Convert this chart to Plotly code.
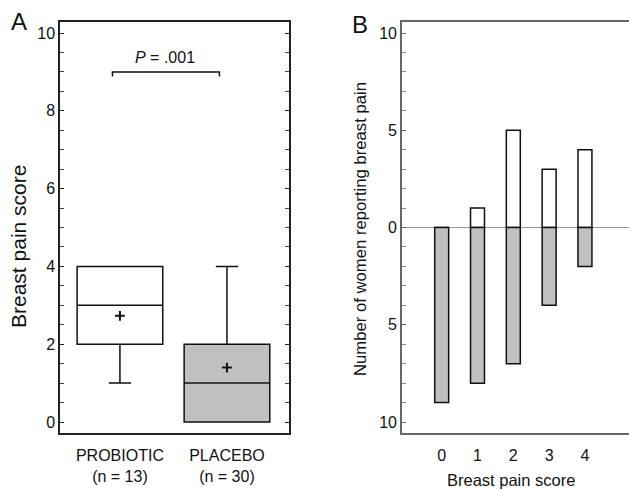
import plotly.graph_objects as go

# Panel A data (box statistics)
groups = ["PROBIOTIC<br>(n = 13)", "PLACEBO<br>(n = 30)"]
group_pos = [0, 1]
q1 = [2, 0]
median = [3, 1]
q3 = [4, 2]
lower_whisker = [1, 0]
upper_whisker = [4, 4]
means = [2.73, 1.40]
box_fill = ["white", "#c0c0c0"]

# Panel B data
pain_scores = [0, 1, 2, 3, 4]
probiotic_counts = [0, 1, 5, 3, 4]
placebo_counts = [9, 8, 7, 4, 2]

FONT = "Liberation Sans, Arial, sans-serif"
W, H = 629, 490

fig = go.Figure()

for i in range(2):
    fig.add_trace(go.Box(
        x=[group_pos[i]], q1=[q1[i]], median=[median[i]], q3=[q3[i]],
        lowerfence=[lower_whisker[i]], upperfence=[upper_whisker[i]],
        width=0.8, whiskerwidth=0.26,
        fillcolor=box_fill[i], line=dict(color="#111", width=1.5),
        boxpoints=False, showlegend=False, xaxis="x", yaxis="y",
        hoverinfo="skip",
    ))

fig.add_trace(go.Scatter(
    x=group_pos, y=means, mode="markers",
    marker=dict(symbol="cross-thin", size=7, line=dict(color="#111", width=2)),
    showlegend=False, xaxis="x", yaxis="y",
))

fig.add_trace(go.Bar(
    x=pain_scores, y=probiotic_counts, width=0.39,
    marker=dict(color="white", line=dict(color="#111", width=1.5)),
    showlegend=False, xaxis="x2", yaxis="y2",
))
fig.add_trace(go.Bar(
    x=pain_scores, y=[-v for v in placebo_counts], width=0.39,
    marker=dict(color="#c0c0c0", line=dict(color="#111", width=1.5)),
    showlegend=False, xaxis="x2", yaxis="y2",
))

dom_y = [0.1163, 0.955]
tickfont = dict(family=FONT, size=16, color="#111")

fig.update_layout(
    width=W, height=H,
    margin=dict(l=0, r=0, t=0, b=0),
    paper_bgcolor="white", plot_bgcolor="white",
    barmode="relative",
    font=dict(family=FONT, size=16, color="#111"),
    xaxis=dict(
        domain=[0.0954, 0.4595], range=[-0.56, 1.58],
        tickvals=group_pos, ticktext=groups, tickfont=tickfont,
        showgrid=False, zeroline=False, showline=True, linecolor="#222",
        linewidth=1.5, mirror=True, ticks="", ticklabelstandoff=7,
    ),
    yaxis=dict(
        domain=dom_y, range=[-0.283, 10.283],
        tickvals=[0, 2, 4, 6, 8, 10], tickfont=tickfont,
        showgrid=False, zeroline=False, showline=True, linecolor="#222",
        linewidth=1.5, mirror="ticks", ticks="inside", ticklen=4,
        tickcolor="#222",
        minor=dict(dtick=0.5, ticks="inside", ticklen=4, tickcolor="#444", showgrid=False),
    ),
    xaxis2=dict(
        domain=[0.639, 1.0], range=[-1.11, 5.23],
        tickvals=pain_scores, tickfont=tickfont,
        showgrid=False, zeroline=False, showline=True, linecolor="#666",
        linewidth=1.5, mirror=True, ticks="", anchor="y2", ticklabelstandoff=7,
    ),
    yaxis2=dict(
        domain=dom_y, range=[-10.565, 10.565], anchor="x2",
        tickvals=[-10, -5, 0, 5, 10], ticktext=["10", "5", "0", "5", "10"],
        tickfont=tickfont,
        showgrid=False, zeroline=True, zerolinecolor="#999", zerolinewidth=1,
        showline=True, linecolor="#666", linewidth=1.5,
        ticks="inside", ticklen=4, tickcolor="#666",
        minor=dict(dtick=1, ticks="inside", ticklen=4, tickcolor="#888", showgrid=False),
    ),
)

# significance bracket
fig.add_shape(type="path", xref="x", yref="y",
              path="M -0.07,8.88 L -0.07,9 L 0.93,9 L 0.93,8.88",
              line=dict(color="#111", width=1.5))
fig.add_annotation(x=0.42, y=9.38, xref="x", yref="y", showarrow=False,
                   xanchor="center", yanchor="middle",
                   text="<i>P</i> = .001", font=dict(family=FONT, size=16, color="#111"))


def pann(px, py, text, size, angle=0):
    fig.add_annotation(x=px / W, y=(H - py) / H, xref="paper", yref="paper",
                       showarrow=False, xanchor="center", yanchor="middle",
                       text=text, textangle=angle,
                       font=dict(family=FONT, size=size, color="#111"))


# axis titles
pann(18, 247, "Breast pain score", 21, -90)
pann(360, 229, "Number of women reporting breast pain", 16.7, -90)
pann(511, 480, "Breast pain score", 16.5)

# panel letters
pann(19, 22, "A", 24)
pann(360, 24, "B", 24)

fig.write_html("out.html",
               config={"displayModeBar": False},
               post_script="document.body.style.margin='0';document.body.style.overflow='hidden';")
